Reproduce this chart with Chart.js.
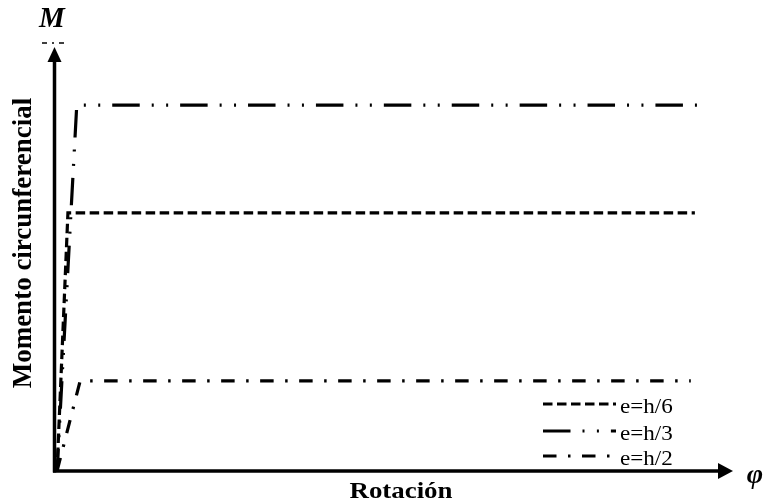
<!DOCTYPE html>
<html>
<head>
<meta charset="utf-8">
<script src="https://cdn.jsdelivr.net/npm/chart.js@4/dist/chart.umd.min.js"></script>
<style>
  html, body { margin: 0; padding: 0; background: #ffffff; }
  #wrap { width: 765px; height: 504px; position: relative; }
</style>
</head>
<body>
<div id="wrap"><canvas id="c" width="765" height="504"></canvas></div>
<script>
// Moment–rotation curves for three load eccentricities
const seriesLabels = ['e=h/6', 'e=h/3', 'e=h/2'];

// rotation (relative units, 0–100) and circumferential moment (0–100)
const rotH6 = [0.3, 1.9, 94.1];
const momH6 = [0, 61.0, 61.0];

const rotH3 = [0.3, 3.2, 94.5];
const momH3 = [0, 86.5, 86.5];

const rotH2 = [0.3, 3.7, 93.5];
const momH2 = [0, 21.3, 21.3];

const axisTitleX = 'Rotación';
const axisTitleY = 'Momento circunferencial';
const axisSymbolX = 'φ';
const axisSymbolY = 'M';

function pts(xs, ys) { return xs.map((x, i) => ({ x: x, y: ys[i] })); }

const dashStyles = [
  [9.5, 4.5],                    // short dashes
  [27.5, 12, 2, 12.4, 2, 12],    // long dash, two dots
  [13.5, 11.5, 2.5, 11.5]        // dash, dot
];
const dashOffsets = [0, 5.5, 0];

const seriesData = [pts(rotH6, momH6), pts(rotH3, momH3), pts(rotH2, momH2)];

const datasets = seriesLabels.map((lab, i) => ({
  label: lab,
  data: seriesData[i],
  borderColor: '#000000',
  borderWidth: 3.2,
  borderDash: dashStyles[i],
  borderDashOffset: dashOffsets[i],
  borderCapStyle: 'butt',
  borderJoinStyle: 'miter',
  pointRadius: 0,
  fill: false,
  tension: 0
}));

const SERIF = '"Liberation Serif", "Times New Roman", serif';

// draws a string horizontally stretched to a given width
function stretchedText(ctx, text, cx, baseY, font, width) {
  ctx.save();
  ctx.font = font;
  const w = ctx.measureText(text).width;
  const s = width / w;
  ctx.translate(cx, baseY);
  ctx.scale(s, 1);
  ctx.textAlign = 'center';
  ctx.textBaseline = 'alphabetic';
  ctx.fillText(text, 0, 0);
  ctx.restore();
}

const axesPlugin = {
  id: 'arrowAxes',
  afterDatasetsDraw(chart) {
    const ctx = chart.ctx;
    const x0 = 54.5, y0 = 471;
    ctx.save();
    ctx.fillStyle = '#000';
    ctx.strokeStyle = '#000';
    ctx.lineWidth = 3.5;
    ctx.setLineDash([]);

    // vertical axis with arrow
    ctx.beginPath();
    ctx.moveTo(x0, y0 + 1.5);
    ctx.lineTo(x0, 60);
    ctx.stroke();
    ctx.beginPath();
    ctx.moveTo(x0, 47);
    ctx.lineTo(x0 - 7, 62);
    ctx.lineTo(x0 + 7, 62);
    ctx.closePath();
    ctx.fill();

    // horizontal axis with arrow
    ctx.beginPath();
    ctx.moveTo(x0 - 1.5, y0);
    ctx.lineTo(720, y0);
    ctx.stroke();
    ctx.beginPath();
    ctx.moveTo(733, y0);
    ctx.lineTo(718, y0 - 8);
    ctx.lineTo(718, y0 + 8);
    ctx.closePath();
    ctx.fill();

    // small mark under the M symbol
    ctx.lineWidth = 1.5;
    ctx.setLineDash([5, 5, 2, 5]);
    ctx.beginPath();
    ctx.moveTo(42, 43);
    ctx.lineTo(67, 43);
    ctx.stroke();
    ctx.setLineDash([]);

    // axis symbols
    ctx.textAlign = 'center';
    ctx.textBaseline = 'alphabetic';
    ctx.font = 'bold italic 29px ' + SERIF;
    ctx.fillText(axisSymbolY, 52, 27);
    ctx.font = 'bold italic 28px ' + SERIF;
    ctx.fillText(axisSymbolX, 755, 483);

    // axis titles
    stretchedText(ctx, axisTitleX, 401, 498, 'bold 24px ' + SERIF, 103);

    ctx.save();
    ctx.translate(31, 243);
    ctx.rotate(-Math.PI / 2);
    ctx.font = 'bold 27px ' + SERIF;
    ctx.textAlign = 'center';
    ctx.textBaseline = 'alphabetic';
    ctx.fillText(axisTitleY, 0, 0);
    ctx.restore();

    // legend
    const legX1 = 543, legX2 = 616;
    const baselines = [413, 440, 465];
    chart.data.datasets.forEach((ds, i) => {
      const ly = baselines[i] - 9;
      ctx.save();
      ctx.beginPath();
      ctx.rect(legX1, ly - 5, legX2 - legX1, 10);
      ctx.clip();
      ctx.lineWidth = 3;
      ctx.lineCap = 'butt';
      ctx.setLineDash(ds.borderDash);
      ctx.lineDashOffset = 0;
      ctx.beginPath();
      ctx.moveTo(legX1, ly);
      ctx.lineTo(legX2, ly);
      ctx.stroke();
      ctx.restore();
      ctx.save();
      ctx.font = '21px ' + SERIF;
      ctx.translate(620, baselines[i]);
      ctx.scale(1.1, 1);
      ctx.textAlign = 'left';
      ctx.fillText(ds.label, 0, 0);
      ctx.restore();
    });
    ctx.restore();
  }
};

new Chart(document.getElementById('c'), {
  type: 'line',
  data: { datasets: datasets },
  options: {
    responsive: false,
    animation: false,
    layout: { padding: { left: 55, right: 30, top: 48, bottom: 33 } },
    plugins: { legend: { display: false }, tooltip: { enabled: false } },
    scales: {
      x: { type: 'linear', min: 0, max: 100, display: false },
      y: { type: 'linear', min: 0, max: 100, display: false }
    }
  },
  plugins: [axesPlugin]
});
</script>
</body>
</html>
